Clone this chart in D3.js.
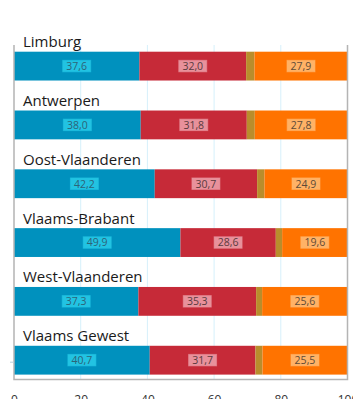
<!DOCTYPE html>
<html>
<head>
<meta charset="utf-8">
<script src="https://cdn.jsdelivr.net/npm/d3@7"></script>
<style>
  html, body { margin: 0; padding: 0; background: #fff; }
  svg { display: block; }
</style>
</head>
<body>
<svg id="chart" width="353" height="399"></svg>
<script>
// Provinces and the Flemish region, top to bottom
const regions = ["Limburg", "Antwerpen", "Oost-Vlaanderen", "Vlaams-Brabant", "West-Vlaanderen", "Vlaams Gewest"];

// Percentages per segment (the small third segment fills the bar to 100)
const seriesA = [37.6, 38.0, 42.2, 49.9, 37.3, 40.7];
const seriesB = [32.0, 31.8, 30.7, 28.6, 35.3, 31.7];
const seriesC = [2.5, 2.4, 2.2, 1.9, 1.8, 2.1];
const seriesD = [27.9, 27.8, 24.9, 19.6, 25.6, 25.5];

const xTicks = [0, 20, 40, 60, 80, 100];

const segments = [
  { key: "a", values: seriesA, fill: "#0091be", labelBg: "#22c3e2", labelText: "#2d6478", label: true },
  { key: "b", values: seriesB, fill: "#c62a38", labelBg: "#e8919b", labelText: "#5a3a3e", label: true },
  { key: "c", values: seriesC, fill: "#b98d2c", label: false },
  { key: "d", values: seriesD, fill: "#ff7300", labelBg: "#ffb266", labelText: "#5e4a36", label: true }
];

const svg = d3.select("#chart");
const plot = { left: 14, right: 347.5, top: 45, bottom: 379.5 };

const x = d3.scaleLinear().domain([0, 100]).range([plot.left, plot.right]);
const y = d3.scaleBand().domain(regions).range([51.7, 374.6]).paddingInner(0.51).paddingOuter(0);

// Vertical grid lines
svg.append("g")
  .selectAll("line")
  .data(xTicks.filter(t => t > 0 && t < 100))
  .join("line")
  .attr("x1", d => x(d)).attr("x2", d => x(d))
  .attr("y1", plot.top).attr("y2", plot.bottom)
  .attr("stroke", "#d6f0fb").attr("stroke-width", 1);

// Stacked rows
const rows = regions.map((r, i) => {
  let acc = 0;
  return segments.map(s => {
    const v = s.values[i];
    const seg = { region: r, seg: s, x0: acc, x1: acc + v, v };
    acc += v;
    return seg;
  });
}).flat();

svg.append("g")
  .selectAll("rect")
  .data(rows)
  .join("rect")
  .attr("x", d => x(d.x0))
  .attr("y", d => y(d.region))
  .attr("width", d => x(d.x1) - x(d.x0))
  .attr("height", y.bandwidth())
  .attr("fill", d => d.seg.fill);

// Region names above each bar
svg.append("g")
  .selectAll("text")
  .data(regions)
  .join("text")
  .attr("x", 23)
  .attr("y", d => y(d) - 4.5)
  .attr("font-family", "'Open Sans', 'Noto Sans', sans-serif")
  .attr("font-size", 15)
  .attr("fill", "#1a1a1a")
  .text(d => d);

// Value badges centred on each labelled segment
const fmt = v => v.toFixed(1).replace(".", ",");
const badges = svg.append("g")
  .selectAll("g")
  .data(rows.filter(d => d.seg.label))
  .join("g")
  .attr("transform", d => `translate(${(x(d.x0) + x(d.x1)) / 2},${y(d.region) + y.bandwidth() / 2})`);

badges.append("rect")
  .attr("x", -14).attr("y", -5.8)
  .attr("width", 28).attr("height", 11.5)
  .attr("fill", d => d.seg.labelBg)
  .attr("stroke", d => d.seg.labelBg)
  .attr("stroke-opacity", 0.6);

badges.append("text")
  .attr("text-anchor", "middle")
  .attr("dy", "0.36em")
  .attr("font-family", "'Open Sans', 'Noto Sans', sans-serif")
  .attr("font-size", 10.5)
  .attr("fill", d => d.seg.labelText)
  .text(d => fmt(d.v));

// Frame: left, right and bottom
const frame = svg.append("g").attr("stroke", "#b4b4b4").attr("stroke-width", 1.5).attr("fill", "none");
frame.append("path").attr("d", `M${plot.left},${plot.top}V${plot.bottom}H${plot.right}V${plot.top}`);

// Small tick next to the overall region row
svg.append("line")
  .attr("x1", plot.left - 4).attr("x2", plot.left)
  .attr("y1", y("Vlaams Gewest") + y.bandwidth() / 2 + 2)
  .attr("y2", y("Vlaams Gewest") + y.bandwidth() / 2 + 2)
  .attr("stroke", "#b8cfdc").attr("stroke-width", 1);

// X axis labels
const xAxis = svg.append("g")
  .attr("transform", `translate(0,${plot.bottom})`)
  .call(d3.axisBottom(x).tickValues(xTicks).tickSize(0).tickPadding(16));
xAxis.select(".domain").remove();
xAxis.selectAll("text")
  .attr("font-family", "'Open Sans', 'Noto Sans', sans-serif")
  .attr("font-size", 12)
  .attr("fill", "#333");
</script>
</body>
</html>
